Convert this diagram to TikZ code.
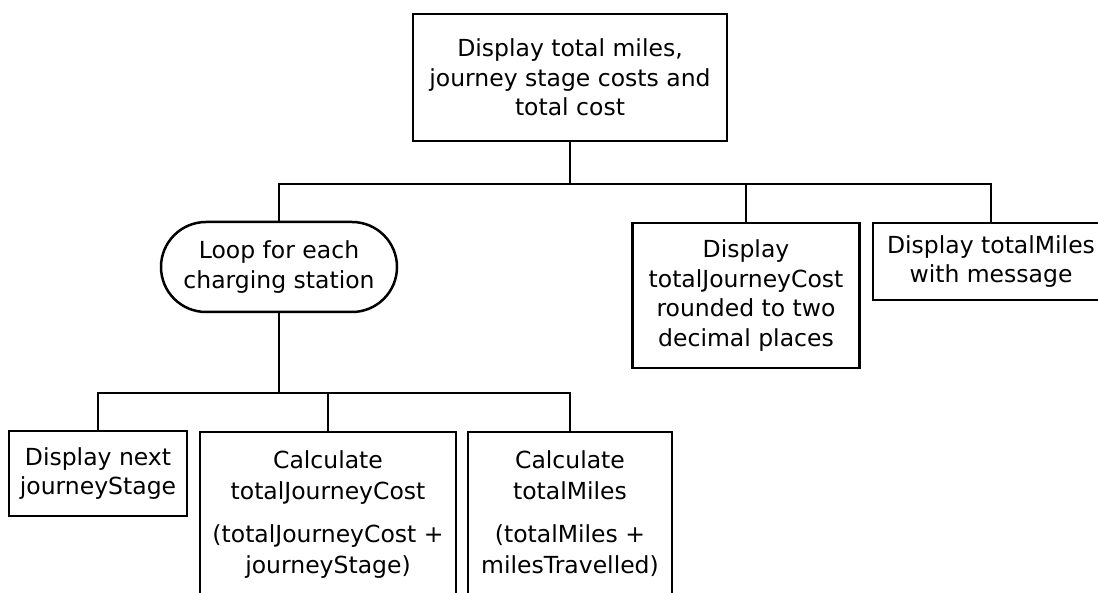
\documentclass[tikz,border=0pt]{standalone}
\usepackage{fontspec}
\setmainfont{DejaVu Sans}
\begin{document}
\begin{tikzpicture}[x=1pt,y=-1pt]
\tikzset{
  box/.style={draw=black, line width=2.5pt, align=center, inner sep=0pt,
    font=\fontsize{23.5}{29.5}\selectfont},
  conn/.style={line width=2.5pt},
}
\useasboundingbox (0,0) rectangle (1098,593);
\clip (0,0) rectangle (1098,593);
\fill[white] (0,0) rectangle (1098,593);

\node[box, minimum width=314pt, minimum height=127pt] (top) at (570,77.5)
  {Display total miles,\\journey stage costs and\\total cost};
\node[box, rounded corners=45pt, minimum width=236pt, minimum height=90pt] (loop) at (279,267)
  {Loop for each\\charging station};
\node[box, minimum width=227pt, minimum height=145pt] (dtjc) at (746,295.5)
  {Display\\totalJourneyCost\\rounded to two\\decimal places};
\node[box, minimum width=236pt, minimum height=77pt] (dtm) at (991,261.5)
  {Display totalMiles\\with message};
\node[box, minimum width=178pt, minimum height=85pt] (dnj) at (98,473.5)
  {Display next\\journeyStage};
\node[box, anchor=north, font=\fontsize{23.5}{31.5}\selectfont] (ctjc) at (328,431)
  {\parbox[c][220pt][t]{256pt}{\centering\vspace*{18pt}Calculate\\totalJourneyCost\par\vspace{11pt}(totalJourneyCost +\\journeyStage)}};
\node[box, anchor=north, font=\fontsize{23.5}{31.5}\selectfont] (ctm) at (570,431)
  {\parbox[c][220pt][t]{204pt}{\centering\vspace*{18pt}Calculate\\totalMiles\par\vspace{11pt}(totalMiles +\\milesTravelled)}};

\coordinate (b1) at (570,184);
\coordinate (b2) at (279,393);
\draw[conn] (top.south) -- (b1);
\draw[conn] (loop.north) |- (b1) -| (dtm.north);
\draw[conn] (dtjc.north) -- (dtjc.north |- b1);
\draw[conn] (loop.south) -- (b2);
\draw[conn] (dnj.north) |- (b2) -| (ctm.north);
\draw[conn] (ctjc.north) -- (ctjc.north |- b2);
\end{tikzpicture}
\end{document}
